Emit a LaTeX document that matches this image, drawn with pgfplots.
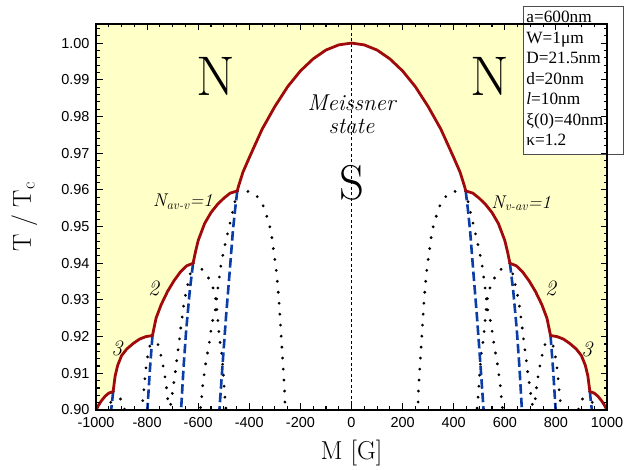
\documentclass[border=0pt]{standalone}
\usepackage{fontspec}
\usepackage{pgfplots}
\pgfplotsset{compat=1.18}
\usepgfplotslibrary{fillbetween}
\newfontfamily\tickfont{Liberation Sans}
\newfontfamily\boxfont{Liberation Serif}
\definecolor{nyellow}{HTML}{FFFFC8}
\definecolor{bred}{HTML}{A00A0A}
\definecolor{tblue}{HTML}{0A3DA6}

% envelope of the T_c(M) domes (red boundary)
\pgfplotstableread{
x T
-1000 0.8999
-990 0.9013
-980 0.9024
-965 0.9037
-950 0.9046
-933 0.9050
-925 0.9093
-915 0.9122
-900 0.9148
-880 0.9166
-855 0.9181
-830 0.9193
-805 0.9200
-779 0.9203
-765 0.9250
-745 0.9287
-720 0.9323
-695 0.9352
-670 0.9376
-645 0.9393
-620 0.9400
-611 0.9430
-600 0.9462
-575 0.9508
-550 0.9538
-525 0.9560
-500 0.9577
-475 0.9591
-447 0.9597
-443 0.9608
-425 0.9648
-400 0.9688
-350 0.9765
-300 0.9827
-250 0.9881
-200 0.9924
-150 0.9957
-100 0.9981
-50 0.9995
0 1.0000
50 0.9995
100 0.9981
150 0.9957
200 0.9924
250 0.9881
300 0.9827
350 0.9765
400 0.9688
425 0.9648
443 0.9608
447 0.9597
475 0.9591
500 0.9577
525 0.9560
550 0.9538
575 0.9508
600 0.9462
611 0.9430
620 0.9400
645 0.9393
670 0.9376
695 0.9352
720 0.9323
745 0.9287
765 0.9250
779 0.9203
805 0.9200
830 0.9193
855 0.9181
880 0.9166
900 0.9148
915 0.9122
925 0.9093
933 0.9050
950 0.9046
965 0.9037
980 0.9024
990 0.9013
1000 0.8999
}\redtab

\pgfplotsset{
  dots/.style={black, line width=3.1bp, line cap=round, dash pattern=on 0bp off 11bp},
  trans/.style={tblue, line width=2.6bp, dash pattern=on 9.5bp off 4bp},
}

\begin{document}
\begin{tikzpicture}
\begin{axis}[
    name=ax, at={(0,0)}, anchor=south west,
    scale only axis, width=511bp, height=386bp,
    xmin=-1000, xmax=1000, ymin=0.9, ymax=1.0052,
    xtick={-1000,-800,-600,-400,-200,0,200,400,600,800,1000},
    xticklabels={-1000,-800,-600,-400,-200,0,200,400,600,800,1000},
    ytick={0.90,0.91,0.92,0.93,0.94,0.95,0.96,0.97,0.98,0.99,1.00,1.01},
    yticklabels={0.90,0.91,0.92,0.93,0.94,0.95,0.96,0.97,0.98,0.99,1.00,1.01},
    minor x tick num=3, minor y tick num=4,
    tick align=inside, tick pos=both,
    major tick length=6.5bp, minor tick length=3.5bp,
    tick style={black, line width=1.1bp},
    axis line style={line width=1.8bp},
    axis on top,
    tick label style={font=\tickfont\fontsize{14.5}{16}\selectfont},
    xticklabel style={yshift=-4bp},
    yticklabel style={xshift=-3bp},
    xlabel={M [G]}, ylabel={T / T\textsubscript{c}},
    label style={font=\fontsize{26}{28}\selectfont},
    xlabel style={at={(axis description cs:0.5,-0.112)}, anchor=center},
    ylabel style={at={(axis description cs:-0.14,0.5)}, anchor=center},
]
\addplot[draw=none, name path=bnd] table {\redtab};
\addplot[draw=none, name path=topl] coordinates {(-1000,1.0052) (1000,1.0052)};
\addplot[fill=nyellow, draw=none] fill between[of=bnd and topl];

\addplot[black, line width=0.7bp, dash pattern=on 3bp off 2.5bp] coordinates {(0,0.9) (0,1.0052)};

% dotted: parts of the domes below the envelope
\addplot[dots] coordinates {(-447,0.9597) (-470,0.9525) (-491,0.9463) (-510,0.9400) (-523,0.9332) (-534,0.9268) (-547,0.9234) (-553,0.9200) (-560,0.9168) (-569,0.9136) (-575,0.9104) (-582,0.9070) (-586,0.9038) (-591,0.9006)};
\addplot[dots] coordinates {(447,0.9597) (470,0.9525) (491,0.9463) (510,0.9400) (523,0.9332) (534,0.9268) (547,0.9234) (553,0.9200) (560,0.9168) (569,0.9136) (575,0.9104) (582,0.9070) (586,0.9038) (591,0.9006)};
\addplot[dots] coordinates {(-447,0.9597) (-433,0.9600) (-419,0.9598) (-395,0.9594) (-373,0.9586) (-347,0.9559) (-331,0.9527) (-318,0.9495) (-310,0.9463) (-304,0.9428) (-297,0.9397) (-292,0.9363) (-288,0.9332) (-284,0.9298) (-281,0.9266) (-278,0.9232) (-275,0.9198) (-272,0.9166) (-269,0.9132) (-266,0.9098) (-263,0.9065) (-261,0.9034) (-260,0.9005)};
\addplot[dots] coordinates {(447,0.9597) (433,0.9600) (419,0.9598) (395,0.9594) (373,0.9586) (347,0.9559) (331,0.9527) (318,0.9495) (310,0.9463) (304,0.9428) (297,0.9397) (292,0.9363) (288,0.9332) (284,0.9298) (281,0.9266) (278,0.9232) (275,0.9198) (272,0.9166) (269,0.9132) (266,0.9098) (263,0.9065) (261,0.9034) (260,0.9005)};
\addplot[dots] coordinates {(-620,0.9400) (-601,0.9395) (-570,0.9372) (-547,0.9345) (-534,0.9313) (-528,0.9280) (-523,0.9245) (-519,0.9213) (-514,0.9182) (-507,0.9150) (-503,0.9114) (-500,0.9082) (-497,0.9047) (-493,0.9016) (-491,0.9000)};
\addplot[dots] coordinates {(620,0.9400) (601,0.9395) (570,0.9372) (547,0.9345) (534,0.9313) (528,0.9280) (523,0.9245) (519,0.9213) (514,0.9182) (507,0.9150) (503,0.9114) (500,0.9082) (497,0.9047) (493,0.9016) (491,0.9000)};
\addplot[dots] coordinates {(-620,0.9400) (-634,0.9363) (-644,0.9332) (-654,0.9300) (-660,0.9268) (-667,0.9232) (-672,0.9200) (-684,0.9136) (-690,0.9100) (-697,0.9068) (-703,0.9036) (-710,0.9005)};
\addplot[dots] coordinates {(620,0.9400) (634,0.9363) (644,0.9332) (654,0.9300) (660,0.9268) (667,0.9232) (672,0.9200) (684,0.9136) (690,0.9100) (697,0.9068) (703,0.9036) (710,0.9005)};
\addplot[dots] coordinates {(-779,0.9203) (-768,0.9197) (-757,0.9178) (-748,0.9155) (-740,0.9130) (-733,0.9104) (-726,0.9073) (-720,0.9036) (-716,0.9005)};
\addplot[dots] coordinates {(779,0.9203) (768,0.9197) (757,0.9178) (748,0.9155) (740,0.9130) (733,0.9104) (726,0.9073) (720,0.9036) (716,0.9005)};
\addplot[dots] coordinates {(-779,0.9203) (-790,0.9172) (-801,0.9136) (-808,0.9090) (-814,0.9045) (-820,0.9005)};
\addplot[dots] coordinates {(779,0.9203) (790,0.9172) (801,0.9136) (808,0.9090) (814,0.9045) (820,0.9005)};
\addplot[dots] coordinates {(-933,0.9050) (-922,0.9048) (-912,0.9040) (-900,0.9025) (-892,0.9010) (-888,0.9002)};
\addplot[dots] coordinates {(933,0.9050) (922,0.9048) (912,0.9040) (900,0.9025) (892,0.9010) (888,0.9002)};
\addplot[dots] coordinates {(-933,0.9050) (-940,0.9030) (-946,0.9005)};
\addplot[dots] coordinates {(933,0.9050) (940,0.9030) (946,0.9005)};

% dashed blue: transitions N -> N+1
\addplot[trans] coordinates {(-447,0.9597) (-455,0.9550) (-464,0.9490) (-477,0.9375) (-491,0.9255) (-504,0.9130) (-517,0.9000)};
\addplot[trans] coordinates {(447,0.9597) (455,0.9550) (464,0.9490) (477,0.9375) (491,0.9255) (504,0.9130) (517,0.9000)};
\addplot[trans] coordinates {(-620,0.9400) (-633,0.9325) (-647,0.9218) (-657,0.9120) (-667,0.9000)};
\addplot[trans] coordinates {(620,0.9400) (633,0.9325) (647,0.9218) (657,0.9120) (667,0.9000)};
\addplot[trans] coordinates {(-779,0.9203) (-789,0.9110) (-799,0.9000)};
\addplot[trans] coordinates {(779,0.9203) (789,0.9110) (799,0.9000)};
\addplot[trans] coordinates {(-933,0.9050) (-938,0.9015) (-941,0.9000)};
\addplot[trans] coordinates {(933,0.9050) (938,0.9015) (941,0.9000)};

\addplot[bred, line width=2.8bp, line join=round] table {\redtab};

\node[font=\fontsize{56}{60}\selectfont] at (axis cs:-530,0.9908) {N};
\node[font=\fontsize{56}{60}\selectfont] at (axis cs:542,0.9908) {N};
\node[font=\fontsize{49}{52}\selectfont] at (axis cs:0,0.9618) {S};
\node[font=\itshape\fontsize{23}{24}\selectfont, align=center] at (axis cs:0,0.9806) {Meissner\\state};
\node[font=\itshape\fontsize{18.5}{22}\selectfont] at (axis cs:-660,0.9568) {N\textsubscript{av-v}=1};
\node[font=\itshape\fontsize{18.5}{22}\selectfont] at (axis cs:664,0.9563) {N\textsubscript{v-av}=1};
\node[font=\itshape\fontsize{22}{22}\selectfont] at (axis cs:-775,0.9330) {2};
\node[font=\itshape\fontsize{22}{22}\selectfont] at (axis cs:779,0.9330) {2};
\node[font=\itshape\fontsize{22}{22}\selectfont] at (axis cs:-918,0.9168) {3};
\node[font=\itshape\fontsize{22}{22}\selectfont] at (axis cs:921,0.9166) {3};
\end{axis}
\node[draw=black!70, line width=0.8bp, fill=white, anchor=north west,
      inner xsep=3bp, inner ysep=2bp, text width=94bp, align=left,
      font=\boxfont\fontsize{17.3}{20.6}\selectfont]
  at ([xshift=427bp,yshift=18bp]ax.north west)
  {\strut a=600nm\\W=1μm\\D=21.5nm\\d=20nm\\{\itshape l}=10nm\\ξ(0)=40nm\\κ=1.2\strut};
\pgfresetboundingbox
\path[use as bounding box] (-96bp,-60bp) rectangle (548bp,410bp);
\end{tikzpicture}
\end{document}
